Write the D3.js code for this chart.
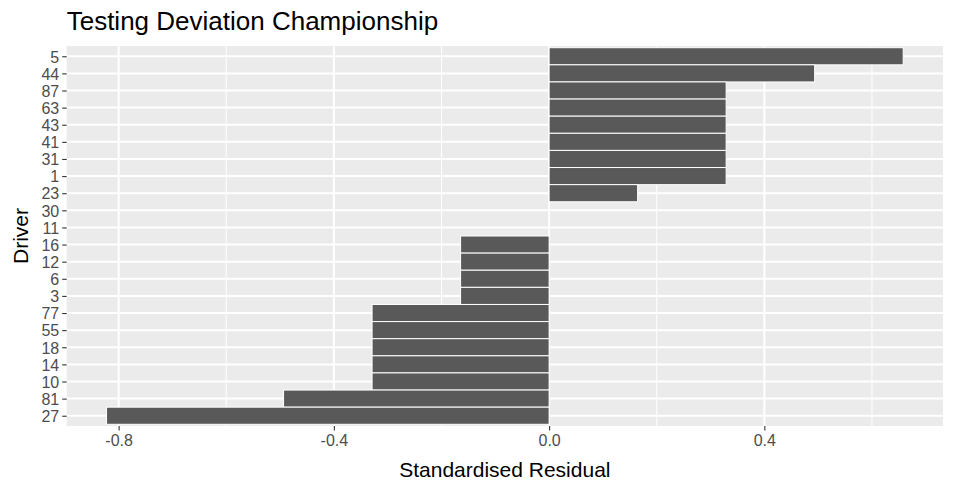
<!DOCTYPE html>
<html><head><meta charset="utf-8">
<script src="https://cdn.jsdelivr.net/npm/d3@7"></script>
<style>body{margin:0;background:#fff}svg{display:block}text{font-family:"Liberation Sans",Arial,sans-serif}</style>
</head><body><svg id="c" width="954" height="492"></svg>
<script>
const drivers = ["5","44","87","63","43","41","31","1","23","30","11","16","12","6","3","77","55","18","14","10","81","27"];
const residuals = [0.658,0.4935,0.329,0.329,0.329,0.329,0.329,0.329,0.1645,0,0,-0.1645,-0.1645,-0.1645,-0.1645,-0.329,-0.329,-0.329,-0.329,-0.329,-0.4935,-0.8225];
const xTicks = [-0.8,-0.4,0.0,0.4];
const xTickLabels = ["-0.8","-0.4","0.0","0.4"];
const xMinor = [-0.6,-0.2,0.2,0.6];
const title = "Testing Deviation Championship";
const xTitle = "Standardised Residual";
const yTitle = "Driver";

const svg = d3.select("#c");
const L = 66.7, R = 943, T = 46, B = 426;
const ext = d3.extent(residuals.concat([0]));
const pad = (ext[1]-ext[0])*0.05;
const x = d3.scaleLinear().domain([ext[0]-pad, ext[1]+pad]).range([L, R]);
const n = drivers.length;
const step = (B - T) / (n - 1 + 1.2);
const y = d3.scalePoint().domain(drivers).range([T + 0.6*step, B - 0.6*step]);

svg.append("rect").attr("x",L).attr("y",T).attr("width",R-L).attr("height",B-T).attr("fill","#EBEBEB");
svg.selectAll(".minor").data(xMinor).join("line")
  .attr("x1",d=>x(d)).attr("x2",d=>x(d)).attr("y1",T).attr("y2",B)
  .attr("stroke","#fff").attr("stroke-width",1);
svg.selectAll(".majx").data(xTicks).join("line")
  .attr("x1",d=>x(d)).attr("x2",d=>x(d)).attr("y1",T).attr("y2",B)
  .attr("stroke","#fff").attr("stroke-width",2);
svg.selectAll(".majy").data(drivers).join("line")
  .attr("x1",L).attr("x2",R).attr("y1",d=>y(d)).attr("y2",d=>y(d))
  .attr("stroke","#fff").attr("stroke-width",2);

svg.selectAll(".bar").data(drivers.map((d,i)=>({d,v:residuals[i]}))).join("rect")
  .attr("x",o=>x(Math.min(0,o.v))).attr("width",o=>Math.abs(x(o.v)-x(0)))
  .attr("y",o=>y(o.d)-step/2).attr("height",step)
  .attr("fill","#595959").attr("stroke","#fff").attr("stroke-width",o=>o.v===0?0:1);

const xa = svg.append("g").attr("transform",`translate(0,${B})`)
  .call(d3.axisBottom(x).tickValues(xTicks).tickFormat((d,i)=>xTickLabels[i]).tickSize(4.5).tickPadding(3));
const ya = svg.append("g").attr("transform",`translate(${L},0)`)
  .call(d3.axisLeft(y).tickSize(4.5).tickPadding(3));
[xa,ya].forEach(a=>{
  a.select(".domain").remove();
  a.selectAll(".tick line").attr("stroke","#333").attr("stroke-width",1.1);
  a.selectAll(".tick text").attr("fill","#4D4D4D").style("font-size","16px").style("font-family","Liberation Sans, Arial, sans-serif");
});
xa.selectAll(".tick text").attr("dy","0.71em").attr("y",9);
ya.selectAll(".tick text").attr("dy","0.36em");

svg.append("text").attr("x",L).attr("y",30).text(title).style("font-size","26px").attr("fill","#000");
svg.append("text").attr("x",(L+R)/2).attr("y",476.5).attr("text-anchor","middle").text(xTitle).style("font-size","21px").attr("fill","#000");
svg.append("text").attr("transform",`translate(28,${(T+B)/2}) rotate(-90)`).attr("text-anchor","middle").text(yTitle).style("font-size","21px").attr("fill","#000");
</script></body></html>
